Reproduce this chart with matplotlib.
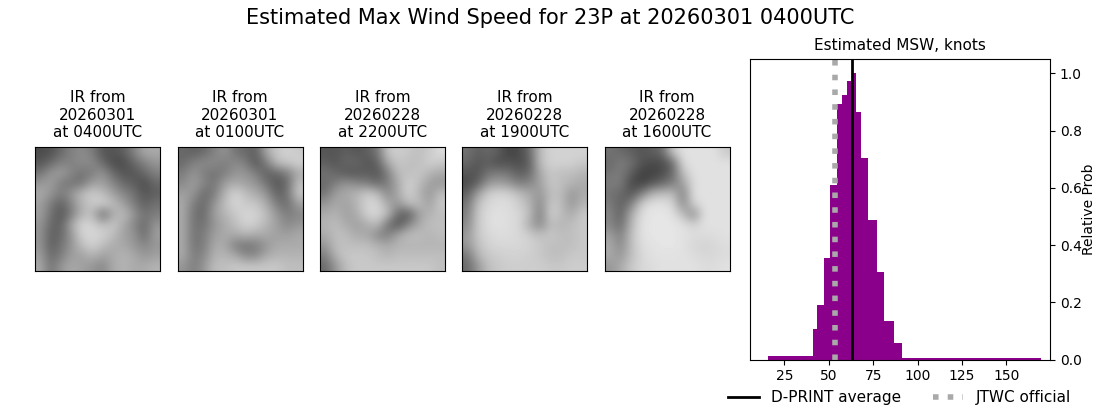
import numpy as np
import matplotlib
matplotlib.use("Agg")
import matplotlib.pyplot as plt

W, H = 1100, 409

suptitle = "Estimated Max Wind Speed for 23P at 20260301 0400UTC"
panel_titles = ["IR from\n20260301\nat 0400UTC", "IR from\n20260301\nat 0100UTC",
                "IR from\n20260228\nat 2200UTC", "IR from\n20260228\nat 1900UTC",
                "IR from\n20260228\nat 1600UTC"]

ir_1 = [[75,80,105,130,140,125,85,85,95,130,170,170],
        [85,105,130,130,140,140,105,75,75,105,130,150],
        [115,150,160,135,115,125,150,105,85,85,105,130],
        [150,160,125,115,115,160,160,135,105,95,75,105],
        [170,150,125,150,190,205,190,160,135,115,85,95],
        [160,125,95,135,180,200,210,190,160,125,95,115],
        [160,115,85,125,180,190,100,170,190,150,115,125],
        [150,105,95,170,215,210,190,200,170,135,105,150],
        [150,95,105,150,210,215,210,190,160,150,105,160],
        [150,95,115,150,190,210,190,170,170,150,135,150],
        [160,105,125,160,160,180,160,170,180,170,150,160],
        [170,115,150,170,160,150,135,170,180,170,170,180]]
ir_2 = [[105,95,105,130,150,115,105,95,170,200,210,200],
        [105,130,140,140,125,140,125,85,125,190,200,210],
        [125,150,125,115,125,150,150,125,95,105,125,170],
        [135,160,135,115,160,170,160,150,115,85,105,190],
        [160,150,105,125,180,215,190,170,150,95,115,200],
        [170,125,105,150,190,215,200,200,170,125,105,160],
        [170,115,105,160,180,200,215,210,190,150,125,135],
        [170,115,115,150,170,190,210,205,180,160,135,150],
        [170,115,125,160,170,170,180,170,170,160,160,170],
        [170,115,125,170,170,125,115,125,150,170,170,170],
        [170,125,135,180,180,170,135,135,170,180,180,180],
        [150,125,150,190,190,200,200,200,200,200,190,190]]
ir_3 = [[85,85,95,85,95,115,200,205,200,190,200,220],
        [95,85,105,105,85,95,170,200,190,190,210,200],
        [115,105,85,85,95,85,125,190,190,200,180,170],
        [105,125,150,135,125,105,125,170,210,190,160,150],
        [115,160,170,180,205,190,135,170,210,180,150,190],
        [150,170,160,180,210,215,170,150,190,190,160,200],
        [170,180,160,170,210,215,190,105,85,160,180,190],
        [180,190,170,160,170,190,115,80,135,170,190,190],
        [170,190,190,170,170,135,125,170,190,190,180,190],
        [150,190,190,190,190,180,170,180,180,180,180,180],
        [125,180,200,200,200,190,180,190,190,190,190,190],
        [105,150,190,200,200,200,200,200,200,200,200,190]]
ir_4 = [[115,95,105,95,65,75,105,190,210,210,210,210],
        [105,85,95,75,85,75,95,190,210,210,210,200],
        [85,85,115,125,115,95,105,170,200,190,190,180],
        [75,95,150,160,150,125,135,160,200,190,180,170],
        [95,160,205,215,210,190,170,150,190,190,150,170],
        [115,190,215,220,220,205,180,135,200,190,150,180],
        [125,200,220,225,220,215,190,125,210,190,170,200],
        [135,200,220,225,220,215,170,135,190,180,190,200],
        [150,200,215,220,220,215,205,190,200,190,190,200],
        [150,190,210,215,215,215,210,200,190,190,190,200],
        [115,180,200,205,210,210,205,200,190,190,200,200],
        [105,150,190,200,205,205,205,205,200,200,205,205]]
ir_5 = [[115,105,95,85,95,105,200,225,225,225,225,200],
        [105,125,115,85,75,75,105,220,225,225,225,225],
        [115,125,95,65,65,75,105,190,225,225,225,225],
        [125,125,75,65,85,105,125,160,220,225,225,225],
        [115,105,85,125,180,190,190,125,225,225,225,225],
        [125,95,125,205,225,225,215,135,210,225,225,225],
        [135,95,170,220,230,230,225,190,135,225,225,225],
        [135,105,180,225,230,230,230,225,210,225,225,225],
        [160,125,190,225,230,230,230,225,220,220,220,225],
        [170,135,190,220,225,230,230,225,215,210,215,220],
        [170,150,190,215,225,225,225,225,220,215,215,220],
        [150,170,200,215,220,225,225,225,225,220,220,225]]
ir_images = [ir_1, ir_2, ir_3, ir_4, ir_5]

bin_edges = [15.7,41.1,43.5,47.3,50.7,54.8,57.5,60.3,63.3,65.5,68,72.1,77.2,81.1,86.8,91.3,169.7]
rel_prob = [0.012,0.106,0.19,0.354,0.61,0.893,0.924,0.973,1.0,0.866,0.704,0.487,0.305,0.134,0.057,0.004]
dprint_avg = 63
jtwc_official = 53.3

fig = plt.figure(figsize=(W/100, H/100), dpi=100)
fig.text(550/W, 1-18/H, suptitle, ha="center", va="center", fontsize=15)

lefts = [35, 177.5, 320, 462, 604.5]
for x0, img, t in zip(lefts, ir_images, panel_titles):
    ax = fig.add_axes([x0/W, 1-271/H, 125/W, 124/H])
    ax.set_facecolor("#999999")
    ax.imshow(np.array(img), cmap="gray", vmin=0, vmax=255, aspect="auto", interpolation="bicubic")
    ax.set_xticks([]); ax.set_yticks([])
    ax.set_title(t, fontsize=11, pad=7)

ax = fig.add_axes([750/W, 1-359.6/H, 300/W, 300.6/H])
ax.stairs(rel_prob, bin_edges, fill=True, color="darkmagenta", linewidth=0)
l1 = ax.axvline(dprint_avg, color="k", lw=2, label="D-PRINT average")
l2 = ax.axvline(jtwc_official, color="darkgray", lw=4, ls=":", label="JTWC official")
ax.set_xlim(5.6, 174.6)
ax.set_ylim(0, 1.05)
ax.set_xticks([25,50,75,100,125,150])
ax.yaxis.tick_right()
ax.yaxis.set_label_position("right")
ax.set_ylabel("Relative Prob", fontsize=10, labelpad=0.5)
ax.set_title("Estimated MSW, knots", fontsize=11, pad=6.5)
fig.legend(handles=[l1,l2], loc="center", bbox_to_anchor=(899.5/W, 1-397.4/H), ncol=2,
           frameon=False, fontsize=11, columnspacing=2.05)
fig.savefig("out.png", dpi=100)
